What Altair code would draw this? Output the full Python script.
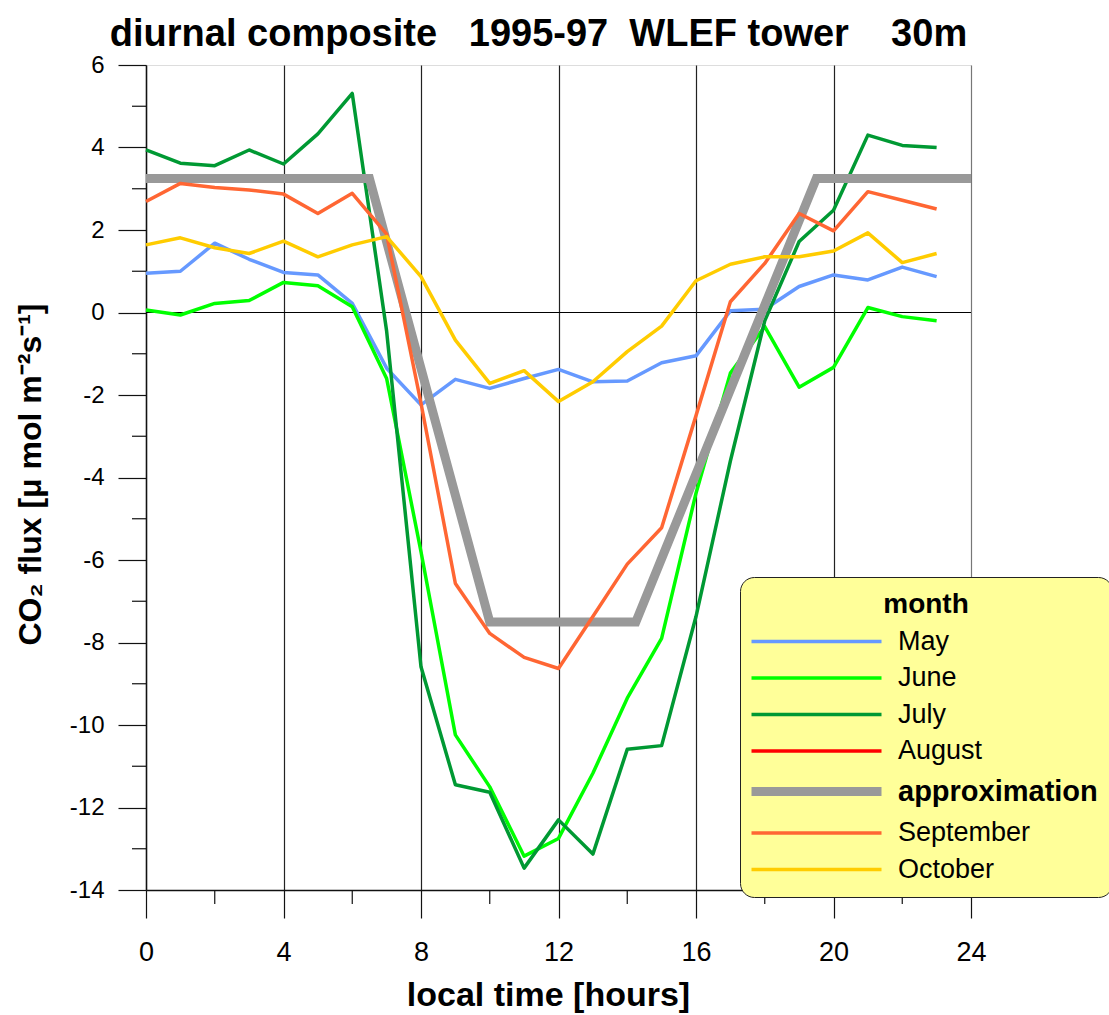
import altair as alt
import pandas as pd

# ---------------- data ----------------
hours = list(range(24))

may = [0.95, 1.00, 1.68, 1.29, 0.97, 0.91, 0.22, -1.35, -2.24, -1.62, -1.84, -1.60,
       -1.38, -1.68, -1.66, -1.22, -1.05, 0.04, 0.08, 0.63, 0.91, 0.79, 1.10, 0.87]
june = [0.06, -0.06, 0.22, 0.29, 0.73, 0.65, 0.14, -1.60, -5.80, -10.24, -11.50, -13.18,
        -12.75, -11.17, -9.35, -7.90, -4.38, -1.47, -0.34, -1.81, -1.33, 0.12, -0.10, -0.20]
july = [3.94, 3.62, 3.56, 3.94, 3.60, 4.33, 5.31, -0.45, -8.59, -11.45, -11.63, -13.47,
        -12.30, -13.13, -10.59, -10.50, -7.37, -3.60, -0.20, 1.72, 2.48, 4.30, 4.05, 4.00]
september = [2.69, 3.13, 3.03, 2.97, 2.87, 2.40, 2.89, 1.90, -2.20, -6.57, -7.78, -8.36,
             -8.63, -7.37, -6.10, -5.22, -2.50, 0.26, 1.19, 2.40, 1.98, 2.93, 2.72, 2.51]
october = [1.64, 1.81, 1.57, 1.43, 1.73, 1.35, 1.64, 1.84, 0.87, -0.67, -1.72, -1.41,
           -2.16, -1.68, -0.95, -0.33, 0.77, 1.17, 1.35, 1.35, 1.49, 1.93, 1.21, 1.43]

approx_hours = [0, 6.5, 10, 14.25, 19.5, 24]
approx_vals = [3.25, 3.25, -7.5, -7.5, 3.25, 3.25]

series_names = ["May", "June", "July", "August", "approximation", "September", "October"]
series_colors = ["#6699FF", "#00FF00", "#009933", "#FF0000", "#999999", "#FF6633", "#FFCC00"]

x_major = [0, 4, 8, 12, 16, 20, 24]
x_minor = [2, 6, 10, 14, 18, 22]
y_major = [-14, -12, -10, -8, -6, -4, -2, 0, 2, 4, 6]
y_minor = [-13, -11, -9, -7, -5, -3, -1, 1, 3, 5]

title_text = "diurnal composite\u00a0\u00a0 1995-97\u00a0 WLEF tower\u00a0\u00a0\u00a0 30m"
x_title = "local time [hours]"
y_title = "CO\u2082 flux [\u03bc mol m\u207b\u00b2s\u207b\u00b9]"

# ---------------- tables ----------------
rows = []
for name, vals in [("May", may), ("June", june), ("July", july),
                   ("September", september), ("October", october)]:
    for h, v in zip(hours, vals):
        rows.append({"hour": h, "flux": v, "month": name})
for h, v in zip(approx_hours, approx_vals):
    rows.append({"hour": h, "flux": v, "month": "approximation"})
df = pd.DataFrame(rows)

minor_x_df = pd.DataFrame({"hour": x_minor})
minor_y_df = pd.DataFrame({"flux": y_minor})
zero_df = pd.DataFrame({"flux": [0]})

W = 825
H = 825
FONT = "Liberation Sans"

x_scale = alt.Scale(domain=[0, 24], nice=False, zero=False)
y_scale = alt.Scale(domain=[-14, 6], nice=False, zero=False)

x_enc = alt.X(
    "hour:Q", scale=x_scale,
    axis=alt.Axis(
        values=x_major, labelExpr="'' + datum.value", title=x_title,
        grid=True,
        gridColor={"condition": {"test": "datum.value == 24 || datum.value == 0", "value": "#777777"}, "value": "#222222"},
        gridWidth=1.2,
        tickSize=28, tickColor="#111111", tickWidth=1.2,
        domainColor="#111111", domainWidth=1.5,
        labelFontSize=27, labelFont=FONT, labelColor="#000000", labelFlush=False,
        labelBaseline="alphabetic", labelPadding=42,
        titleFontSize=34, titleFont=FONT, titleFontWeight="bold", titleColor="#000000",
        titleBaseline="alphabetic", titleX=402, titleY=115, titleAnchor="middle",
        titleAlign="center",
    ),
)
y_enc = alt.Y(
    "flux:Q", scale=y_scale,
    axis=alt.Axis(
        values=y_major, labelExpr="'' + datum.value", title=y_title, grid=False,
        tickSize=28, tickColor="#111111", tickWidth=1.2,
        domainColor="#111111", domainWidth=1.5,
        labelFontSize=24, labelFont=FONT, labelColor="#000000", labelFlush=False,
        labelPadding=14,
        titleFontSize=32, titleFont=FONT, titleFontWeight="bold", titleColor="#000000",
        titleX=-116, titleY=409, titleAngle=-90, titleAlign="center",
        titleBaseline="middle", titleAnchor="middle",
    ),
)

legend = alt.Legend(
    title="month", orient="none", legendX=594, legendY=512,
    fillColor="#FFFF99", strokeColor="#222222", cornerRadius=14, padding=14,
    titleFontSize=28, titleFont=FONT, titleFontWeight="bold", titleColor="#000000",
    titleAnchor="middle", titlePadding=9,
    labelFontSize={"expr": "datum.label == 'approximation' ? 29 : 27"},
    labelFont=FONT, labelColor="#000000", labelOffset=68,
    labelLimit=400,
    labelFontWeight={"expr": "datum.label == 'approximation' ? 'bold' : 'normal'"},
    symbolType="M-5,0H5", symbolSize=676,
    symbolStrokeWidth={"expr": "datum.label == 'approximation' ? 9 : 3.5"},
    rowPadding=8.5, symbolOffset=49,
)
color_enc = alt.Color("month:N", scale=alt.Scale(domain=series_names, range=series_colors),
                      legend=legend)

base = alt.Chart(df)

layers = []
# zero line
layers.append(alt.Chart(zero_df).mark_rule(color="#000000", strokeWidth=1.2).encode(y=y_enc))
# minor ticks
layers.append(alt.Chart(minor_x_df).mark_rule(color="#111111", strokeWidth=1.2).encode(
    x=x_enc, y=alt.value(H), y2=alt.value(H + 14)))
layers.append(alt.Chart(minor_y_df).mark_rule(color="#111111", strokeWidth=1.2).encode(
    y=y_enc, x=alt.value(-14), x2=alt.value(0)))

for name in ["May", "June", "July", "approximation", "September", "October"]:
    sw = 9 if name == "approximation" else 3.5
    layers.append(
        base.transform_filter(alt.datum.month == name)
        .mark_line(strokeWidth=sw, strokeJoin="miter" if name == "approximation" else "round")
        .encode(x=x_enc, y=y_enc, color=color_enc, order="hour:Q")
    )

chart = alt.layer(*layers).properties(
    width=W, height=H,
    autosize=alt.AutoSizeParams(type="none"),
    padding={"left": 146, "top": 65, "right": 138, "bottom": 125},
    title=alt.TitleParams(
        text=title_text, fontSize=38, fontWeight="bold", font=FONT, color="#000000",
        anchor="middle", frame="group", dx=-20, dy=11, offset=10,
    ),
).configure_view(stroke="#444444", strokeWidth=1.2).configure(background="white")

chart.save("out.html", embed_options={"renderer": "svg", "actions": False})
